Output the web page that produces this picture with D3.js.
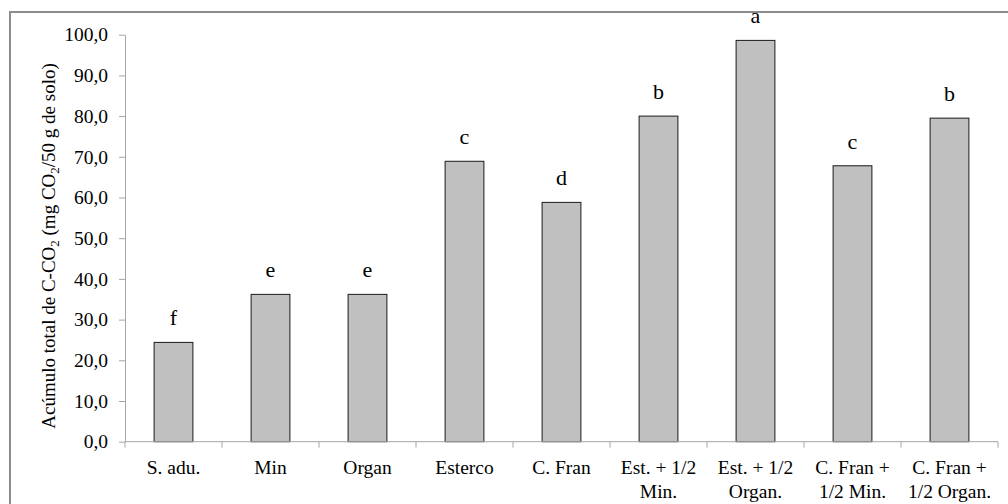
<!DOCTYPE html>
<html>
<head>
<meta charset="utf-8">
<script src="https://cdn.jsdelivr.net/npm/d3@7"></script>
<style>
  body { margin: 0; background: #fff; }
</style>
</head>
<body>
<div id="chart"></div>
<script>
// treatments, shown on the x axis (one array per label line)
const categories = ["S. adu.", "Min", "Organ", "Esterco", "C. Fran", "Est. + 1/2 Min.", "Est. + 1/2 Organ.", "C. Fran + 1/2 Min.", "C. Fran + 1/2 Organ."];
const labelLines = [
    ["S. adu."], ["Min"], ["Organ"], ["Esterco"], ["C. Fran"],
    ["Est. + 1/2", "Min."], ["Est. + 1/2", "Organ."], ["C. Fran +", "1/2 Min."], ["C. Fran +", "1/2 Organ."]
];
const values = [24.4, 36.2, 36.2, 68.9, 58.8, 80.0, 98.6, 67.8, 79.5];
const letters = ["f", "e", "e", "c", "d", "b", "a", "c", "b"];
const yTicks = [0, 10, 20, 30, 40, 50, 60, 70, 80, 90, 100];

const width = 1008;
const height = 504;
const margin = { left: 125, right: 10, top: 34.7, bottom: 62.3 };
const serif = '"Liberation Serif", "Times New Roman", serif';

const svg = d3.select("#chart").append("svg")
    .attr("width", width)
    .attr("height", height)
    .style("font-family", serif);

// outer frame (runs off the right/bottom edges like the source image)
svg.append("rect")
    .attr("x", 10).attr("y", 12)
    .attr("width", 1010).attr("height", 510)
    .attr("fill", "none")
    .attr("stroke", "#8c8c8c")
    .attr("stroke-width", 2);

const x = d3.scaleBand()
    .domain(categories)
    .range([margin.left, 998])
    .paddingInner(0)
    .paddingOuter(0);

const y = d3.scaleLinear()
    .domain([0, 100])
    .range([height - margin.bottom, margin.top]);

const barW = x.bandwidth() * 0.4;
const axisColor = "#a6a6a6";

// y axis
const yAxis = svg.append("g")
    .attr("transform", `translate(${margin.left},0)`)
    .call(d3.axisLeft(y)
        .tickValues(yTicks)
        .tickSize(6)
        .tickPadding(11)
        .tickSizeOuter(0)
        .tickFormat(d => d3.format(".1f")(d).replace(".", ",")));
yAxis.attr("font-family", null).attr("font-size", null);
yAxis.select(".domain").attr("stroke", axisColor);
yAxis.selectAll(".tick line").attr("stroke", axisColor);
yAxis.selectAll(".tick text")
    .style("font-family", serif)
    .style("font-size", "19.5px")
    .attr("fill", "#000");

// bars
svg.append("g").selectAll("rect")
    .data(values)
    .enter()
    .append("rect")
    .attr("x", (d, i) => x(categories[i]) + (x.bandwidth() - barW) / 2)
    .attr("y", d => y(d))
    .attr("width", barW)
    .attr("height", d => y(0) - y(d))
    .attr("fill", "#c0c0c0")
    .attr("stroke", "#1a1a1a")
    .attr("stroke-width", 1);

// x axis line with tick marks at band edges
const xAxisG = svg.append("g");
xAxisG.append("line")
    .attr("x1", x.range()[0]).attr("x2", x.range()[1])
    .attr("y1", y(0)).attr("y2", y(0))
    .attr("stroke", axisColor);
const edges = categories.map(c => x(c)).concat([x.range()[1]]);
xAxisG.selectAll(".xt")
    .data(edges)
    .enter()
    .append("line")
    .attr("class", "xt")
    .attr("x1", d => d).attr("x2", d => d)
    .attr("y1", y(0)).attr("y2", y(0) + 6)
    .attr("stroke", axisColor);

// category labels
const xl = svg.append("g").selectAll("text")
    .data(categories)
    .enter()
    .append("text")
    .attr("text-anchor", "middle")
    .style("font-family", serif)
    .style("font-size", "19.5px")
    .attr("y", 474);
xl.each(function (c, i) {
    const t = d3.select(this);
    labelLines[i].forEach((line, k) => {
        t.append("tspan")
            .attr("x", x(c) + x.bandwidth() / 2)
            .attr("y", 474 + k * 24)
            .text(line);
    });
});

// significance letters
svg.append("g").selectAll("text")
    .data(values)
    .enter()
    .append("text")
    .attr("text-anchor", "middle")
    .style("font-family", serif)
    .style("font-size", "22px")
    .attr("x", (d, i) => x(categories[i]) + x.bandwidth() / 2)
    .attr("y", d => y(d) - 17)
    .text((d, i) => letters[i]);

// y axis title
const yt = svg.append("text")
    .attr("transform", "translate(55,246) rotate(-90)")
    .attr("text-anchor", "middle")
    .style("font-family", serif)
    .style("font-size", "19px");
yt.append("tspan").text("Acúmulo total de C-CO");
yt.append("tspan").style("font-size", "13px").attr("dy", 4).text("2");
yt.append("tspan").attr("dy", -4).text(" (mg CO");
yt.append("tspan").style("font-size", "13px").attr("dy", 4).text("2");
yt.append("tspan").attr("dy", -4).text("/50 g de solo)");
</script>
</body>
</html>
